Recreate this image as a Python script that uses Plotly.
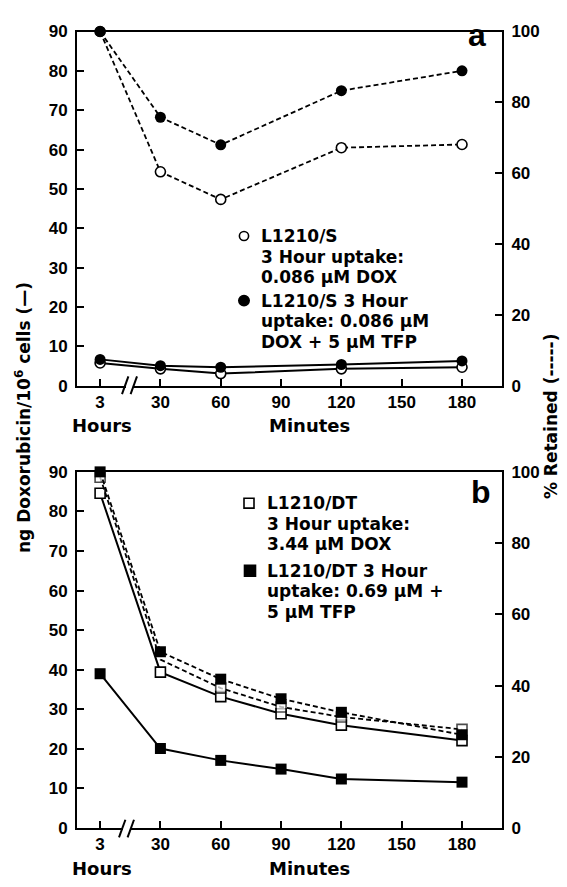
import plotly.graph_objects as go

W, H = 567, 887

# ---------------- data ----------------
time_labels = ["3", "30", "60", "90", "120", "150", "180"]

# panel a (L1210/S)
a_times = ["3", "30", "60", "120", "180"]
a_s_ng = [5.8, 4.3, 3.1, 4.3, 4.7]          # ng/10^6 cells, DOX alone
a_stfp_ng = [6.7, 5.1, 4.7, 5.4, 6.3]       # ng/10^6 cells, DOX + TFP
a_s_ret = [100, 60.4, 52.6, 67.2, 68.1]     # % retained, DOX alone
a_stfp_ret = [100, 75.8, 68.0, 83.3, 88.9]  # % retained, DOX + TFP

# panel b (L1210/DT)
b_times = ["3", "30", "60", "90", "120", "180"]
b_dt_ng = [84.6, 39.4, 33.2, 28.9, 26.0, 22.1]
b_dttfp_ng = [39.0, 20.1, 17.1, 14.9, 12.4, 11.6]
b_dt_ret = [98.5, 47.3, 39.3, 34.0, 31.2, 27.7]
b_dttfp_ret = [100, 49.5, 41.8, 36.3, 32.5, 26.2]

left_ticks = list(range(0, 91, 10))
right_ticks = list(range(0, 101, 20))

legend_a = [["L1210/S", "3 Hour uptake:", "0.086 μM DOX"],
            ["L1210/S 3 Hour", "uptake: 0.086 μM", "DOX + 5 μM TFP"]]
legend_b = [["L1210/DT", "3 Hour uptake:", "3.44 μM DOX"],
            ["L1210/DT 3 Hour", "uptake: 0.69 μM +", "5 μM TFP"]]

# ---------------- styling helpers ----------------
TICKFONT = dict(family="Liberation Sans", size=17, color="black", weight="bold")
TXTFONT = dict(family="DejaVu Sans", size=17, color="black", weight="bold")
DASH = "5px,3px"


def px(x):
    return x / W


def py(y):
    return 1 - y / H


X_L, X_R = 77, 502
A_T, A_B = 23, 385
B_T, B_B = 473, 837
XR = [-0.383, 6.663]

fig = go.Figure()


def open_marker(sym, size):
    return dict(symbol=sym, size=size, color="white", line=dict(color="black", width=1.6))


def full_marker(sym, size):
    return dict(symbol=sym, size=size, color="black", line=dict(color="black", width=0))


# panel a traces
fig.add_trace(go.Scatter(x=a_times, y=a_s_ret, xaxis="x", yaxis="y2", mode="lines+markers",
                         line=dict(color="black", width=1.8, dash=DASH),
                         marker=open_marker("circle", 10), cliponaxis=False))
fig.add_trace(go.Scatter(x=a_times, y=a_stfp_ret, xaxis="x", yaxis="y2", mode="lines+markers",
                         line=dict(color="black", width=1.8, dash=DASH),
                         marker=full_marker("circle", 11), cliponaxis=False))
fig.add_trace(go.Scatter(x=a_times, y=a_s_ng, xaxis="x", yaxis="y", mode="lines+markers",
                         line=dict(color="black", width=2),
                         marker=open_marker("circle", 10), cliponaxis=False))
fig.add_trace(go.Scatter(x=a_times, y=a_stfp_ng, xaxis="x", yaxis="y", mode="lines+markers",
                         line=dict(color="black", width=2),
                         marker=full_marker("circle", 11), cliponaxis=False))

# panel b traces
b_open_sizes = [10, 0, 10, 10, 10, 10]
mk = open_marker("square", 10)
mk["size"] = b_open_sizes
fig.add_trace(go.Scatter(x=b_times, y=b_dt_ret, xaxis="x2", yaxis="y4", mode="lines+markers",
                         line=dict(color="black", width=1.8, dash=DASH),
                         marker=mk, cliponaxis=False))
fig.add_trace(go.Scatter(x=b_times, y=b_dt_ng, xaxis="x2", yaxis="y3", mode="lines+markers",
                         line=dict(color="black", width=2),
                         marker=open_marker("square", 10), cliponaxis=False))
fig.add_trace(go.Scatter(x=b_times, y=b_dttfp_ret, xaxis="x2", yaxis="y4", mode="lines+markers",
                         line=dict(color="black", width=1.8, dash=DASH),
                         marker=full_marker("square", 11), cliponaxis=False))
fig.add_trace(go.Scatter(x=b_times, y=b_dttfp_ng, xaxis="x2", yaxis="y3", mode="lines+markers",
                         line=dict(color="black", width=2),
                         marker=full_marker("square", 11), cliponaxis=False))

common_axis = dict(showline=True, linewidth=2, linecolor="black", showgrid=False, zeroline=False,
                   ticks="inside", ticklen=7, tickwidth=2, tickcolor="black", tickfont=TICKFONT)

xdom = [px(X_L), px(X_R)]
xa = dict(common_axis, domain=xdom, type="category", categoryarray=time_labels,
          categoryorder="array", range=XR, tickmode="array", tickvals=time_labels,
          ticktext=time_labels, mirror=True)

fig.update_layout(
    width=W, height=H, margin=dict(l=0, r=0, t=0, b=0),
    paper_bgcolor="white", plot_bgcolor="white", showlegend=False,
    xaxis=dict(xa, anchor="y"),
    xaxis2=dict(xa, anchor="y3"),
    yaxis=dict(common_axis, domain=[py(A_B), py(A_T)], anchor="x", range=[0, 90],
               tickmode="array", tickvals=left_ticks, ticklabelstandoff=4),
    yaxis2=dict(common_axis, overlaying="y", side="right", anchor="x", range=[0, 100],
                tickmode="array", tickvals=right_ticks, ticklabelstandoff=4),
    yaxis3=dict(common_axis, domain=[py(B_B), py(B_T)], anchor="x2", range=[0, 90],
                tickmode="array", tickvals=left_ticks, ticklabelstandoff=4),
    yaxis4=dict(common_axis, overlaying="y3", side="right", anchor="x2", range=[0, 100],
                tickmode="array", tickvals=right_ticks, ticklabelstandoff=4),
)

shapes = []
annotations = []


def break_marks(cx, cy):
    # white gap in the axis line and two slanted strokes
    shapes.append(dict(type="rect", xref="paper", yref="paper",
                       x0=px(cx - 3.5), x1=px(cx + 3.5), y0=py(cy + 3), y1=py(cy - 3),
                       fillcolor="white", line=dict(width=0), layer="above"))
    for dx in (-4.3, 4.3):
        shapes.append(dict(type="line", xref="paper", yref="paper",
                           x0=px(cx + dx - 3.2), y0=py(cy + 9), x1=px(cx + dx + 3.2), y1=py(cy - 9),
                           line=dict(color="black", width=2), layer="above"))


break_marks(129.5, 384.5)
break_marks(126.5, 837.5)


def text(x, y, s, font=TXTFONT, xanchor="left", angle=0):
    annotations.append(dict(x=px(x), y=py(y), xref="paper", yref="paper", text=s,
                            showarrow=False, xanchor=xanchor, yanchor="middle",
                            font=font, textangle=angle))


# axis unit labels
AXF = dict(family="DejaVu Sans", size=18, color="black", weight="bold")
for yy in (426, 878):
    text(102, yy, "Hours", AXF, "center")
    text(309, yy, "Minutes", AXF, "center")

# axis titles
text(23, 418, "ng Doxorubicin/10<sup>6</sup> cells (—)", TXTFONT, "center", -90)
text(551, 416, "% Retained (-----)", TXTFONT, "center", -90)

# panel letters
PF = dict(family="Liberation Sans", size=32, color="black", weight="bold")
text(477, 27, "a", PF, "center")
text(481, 494, "b", PF, "center")


# legends
def marker_shape(kind, cx, cy, filled, r):
    shapes.append(dict(type=kind, xref="paper", yref="paper",
                       x0=px(cx - r), x1=px(cx + r), y0=py(cy + r), y1=py(cy - r),
                       fillcolor="black" if filled else "white",
                       line=dict(color="black", width=1.6), layer="above"))


marker_shape("circle", 244, 232, False, 4.6)
marker_shape("circle", 244, 298, True, 5.2)
for i, yy in enumerate((232, 253, 274)):
    text(259, yy, legend_a[0][i])
for i, yy in enumerate((298, 319, 340)):
    text(259, yy, legend_a[1][i])

marker_shape("rect", 249, 505, False, 5)
marker_shape("rect", 250, 574, True, 5.5)
for i, yy in enumerate((505, 526, 547)):
    text(265, yy, legend_b[0][i])
for i, yy in enumerate((574, 595, 616)):
    text(265, yy, legend_b[1][i])

fig.update_layout(shapes=shapes, annotations=annotations)
fig.write_html("out.html")
